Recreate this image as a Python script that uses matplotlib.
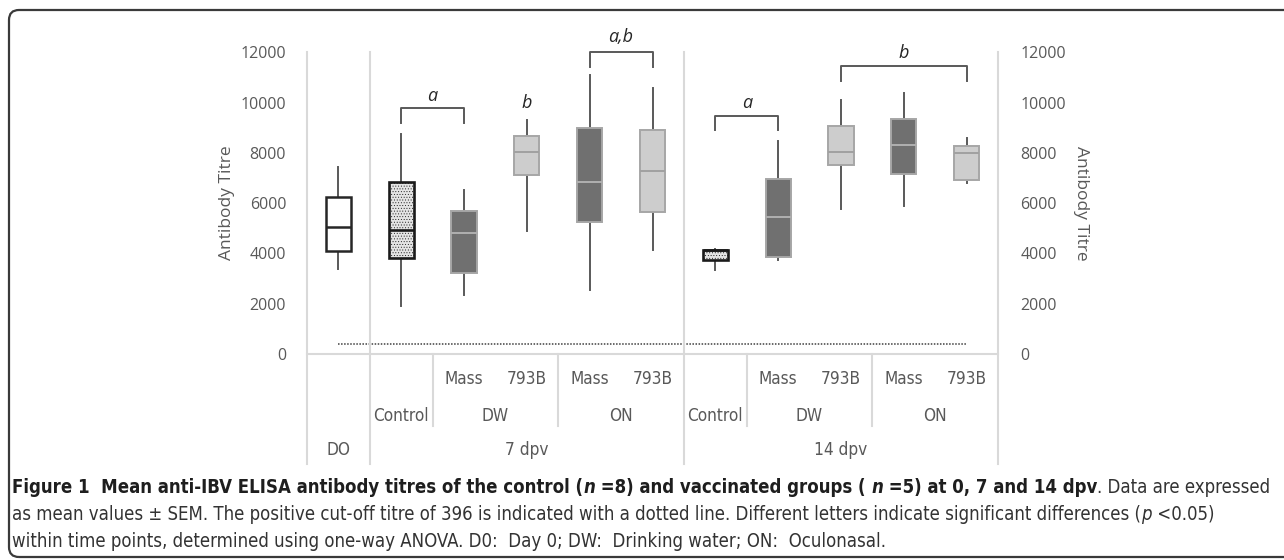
import matplotlib
matplotlib.use('Agg')
import matplotlib.pyplot as plt
from matplotlib.patches import FancyBboxPatch

# five-number summaries read per group (antibody titre)
groups = ['DO', 'Control', 'Mass', '793B', 'Mass', '793B',
          'Control', 'Mass', '793B', 'Mass', '793B']
kinds = ['d0', 'ctrl', 'mass', '793b', 'mass', '793b',
         'ctrl', 'mass', '793b', 'mass', '793b']
whislo = [3380, 1890, 2330, 4890, 2530, 4120, 3350, 3750, 5770, 5870, 6820]
q1 = [4090, 3815, 3220, 7125, 5270, 5630, 3720, 3840, 7535, 7150, 6915]
med = [5060, 4950, 4830, 8050, 6850, 7260, 4120, 5440, 8050, 8310, 8000]
q3 = [6250, 6860, 5695, 8690, 8970, 8910, 4120, 6970, 9085, 9350, 8280]
whishi = [7450, 8740, 6540, 9310, 11110, 10570, 4190, 8480, 10110, 10400, 8580]

cutoff = 396
yticks = [0, 2000, 4000, 6000, 8000, 10000, 12000]

# route labels (row 2) and time points (row 3)
routes = [('Control', 1), ('DW', 2.5), ('ON', 4.5), ('Control', 6), ('DW', 7.5), ('ON', 9.5)]
times = [('DO', 0), ('7 dpv', 3), ('14 dpv', 8)]

# significance brackets: x1, x2, leg bottom, bar top, letter, letter height
brackets = [(1, 2, 9180, 9780, 'a', 10270),
            (4, 5, 11430, 12030, 'a,b', 12600),
            (6, 7, 8890, 9480, 'a', 9990),
            (8, 10, 10860, 11460, 'b', 11960)]
single_letters = [(3, 9980, 'b')]

styles = {
    'd0': dict(face='white', edge='#262626', lw=1.8, medc='#262626', hatch=None),
    'ctrl': dict(face='#e4e4e4', edge='#1a1a1a', lw=1.9, medc='#1a1a1a', hatch='......'),
    'mass': dict(face='#707070', edge='#a6a6a6', lw=1.4, medc='#b0b0b0', hatch=None),
    '793b': dict(face='#cdcdcd', edge='#a6a6a6', lw=1.4, medc='#a0a0a0', hatch=None),
}

grey = '#595959'
light = '#d9d9d9'
tickfont = ['Open Sans', 'DejaVu Sans']

W, H = 1284, 560
fig = plt.figure(figsize=(W / 100, H / 100), dpi=100)
ax_top, ax_bot, ax_l, ax_r = 52.3, 354.0, 307.0, 998.0
ax = fig.add_axes([ax_l / W, 1 - ax_bot / H, (ax_r - ax_l) / W, (ax_bot - ax_top) / H])


def yfrac(p):
    # pixel row -> axes fraction
    return (ax_bot - p) / (ax_bot - ax_top)


stats = []
for i in range(len(groups)):
    stats.append(dict(whislo=whislo[i], q1=q1[i], med=med[i], q3=q3[i],
                      whishi=whishi[i], label=groups[i]))

plt.rcParams['hatch.color'] = '#d6d6d6'
plt.rcParams['hatch.linewidth'] = 0.35
bp = ax.bxp(stats, positions=range(len(groups)), widths=0.4, patch_artist=True,
            showcaps=False, showfliers=False,
            whiskerprops=dict(color=grey, lw=1.4))
for i, k in enumerate(kinds):
    s = styles[k]
    box = bp['boxes'][i]
    box.set_facecolor(s['face'])
    box.set_edgecolor(s['edge'])
    box.set_linewidth(s['lw'])
    if s['hatch']:
        box.set_hatch(s['hatch'])
    box.set_zorder(3)
    bp['medians'][i].set_color(s['medc'])
    bp['medians'][i].set_linewidth(s['lw'])
    bp['medians'][i].set_zorder(4)

# positive cut-off titre
ax.plot([0, len(groups) - 1], [cutoff, cutoff], color='#404040',
        lw=1.1, ls=(0, (1, 1)), zorder=2)

ax.set_xlim(-0.5, len(groups) - 0.5)
ax.set_ylim(0, 12000)
ax.set_yticks(yticks)
ax.set_yticklabels([str(t) for t in yticks], family=tickfont, fontsize=11.5, color=grey)
ax.tick_params(axis='y', length=0, pad=15)
ax.set_xticks([])
for sp in ax.spines.values():
    sp.set_visible(False)

ax2 = ax.twinx()
ax2.set_ylim(0, 12000)
ax2.set_yticks(yticks)
ax2.set_yticklabels([str(t) for t in yticks], family=tickfont, fontsize=11.5, color=grey)
ax2.tick_params(axis='y', length=0, pad=16)
for sp in ax2.spines.values():
    sp.set_visible(False)

xt = ax.get_xaxis_transform()
# frame lines of the category table
ax.plot([-0.5, len(groups) - 0.5], [0, 0], color=light, lw=1.5, transform=xt, clip_on=False)
full_bottom = yfrac(464)
part_bottom = yfrac(426)
for xs in [-0.5, 0.5, 5.5, 10.5]:
    ax.plot([xs, xs], [1, full_bottom], color=light, lw=1.5, transform=xt, clip_on=False)
for xs in [1.5, 3.5, 6.5, 8.5]:
    ax.plot([xs, xs], [0, part_bottom], color=light, lw=1.5, transform=xt, clip_on=False)

lab_kw = dict(transform=xt, ha='center', va='center', family='DejaVu Sans',
              fontstretch='condensed', fontsize=12.3, color=grey)
for i, g in enumerate(groups):
    if g in ('Mass', '793B'):
        ax.text(i, yfrac(379), g, **lab_kw)
for lab, x in routes:
    ax.text(x, yfrac(416), lab, **lab_kw)
for lab, x in times:
    ax.text(x, yfrac(450), lab, **lab_kw)

# significance brackets
for x1, x2, leg, top, lab, ly in brackets:
    ax.plot([x1, x1, x2, x2], [leg, top, top, leg], color=grey, lw=1.4, clip_on=False)
    ax.text((x1 + x2) / 2, ly, lab, ha='center', va='center', style='italic',
            family=tickfont, fontsize=13, color='#262626', clip_on=False)
for x, y, lab in single_letters:
    ax.text(x, y, lab, ha='center', va='center', style='italic',
            family=tickfont, fontsize=13, color='#262626')

fig.text(227 / W, 1 - 203 / H, 'Antibody Titre', rotation=90, ha='center', va='center',
         family=tickfont, fontsize=12.5, color=grey)
fig.text(1081 / W, 1 - 203 / H, 'Antibody Titre', rotation=-90, ha='center', va='center',
         family=tickfont, fontsize=12.5, color=grey)

# caption frame, open on the right
frame = FancyBboxPatch((0.09, 0.03), 14.5, 5.47, boxstyle='round,pad=0,rounding_size=0.1',
                       transform=fig.dpi_scale_trans, facecolor='none',
                       edgecolor='#3a3a3a', lw=1.6, clip_on=False)
fig.add_artist(frame)

# caption, drawn piece by piece so bold, italic and regular runs sit on one line
line1 = [('Figure 1  Mean anti-IBV ELISA antibody titres of the control (', 'bold', 'normal'),
         ('n', 'bold', 'italic'),
         (' =8) and vaccinated groups ( ', 'bold', 'normal'),
         ('n', 'bold', 'italic'),
         (' =5) at 0, 7 and 14 dpv', 'bold', 'normal'),
         ('. Data are expressed', 'normal', 'normal')]
line2 = [('as mean values \u00b1 SEM. The positive cut-off titre of 396 is indicated with a dotted line. '
          'Different letters indicate significant differences (', 'normal', 'normal'),
         ('p', 'normal', 'italic'),
         (' <0.05)', 'normal', 'normal')]
line3 = [('within time points, determined using one-way ANOVA. D0:  Day 0; DW:  Drinking water; '
          'ON:  Oculonasal.', 'normal', 'normal')]

renderer = fig.canvas.get_renderer()


def draw_line(segs, x0, y0, size, keep=True):
    x = x0
    made = []
    for txt, wt, st in segs:
        color = '#1e1e1e' if wt == 'bold' else '#333333'
        t = fig.text(x / W, 1 - y0 / H, txt, ha='left', va='baseline', family='DejaVu Sans',
                     fontstretch='condensed', fontsize=size, weight=wt, style=st, color=color)
        x += t.get_window_extent(renderer).width
        made.append(t)
    if not keep:
        for t in made:
            t.remove()
    return x - x0


# size the caption so the first line runs the full width of the frame
probe = draw_line(line1, 12, 493, 10, keep=False)
cap_size = min(13.4, 10 * 1262 / probe)
draw_line(line1, 12, 493, cap_size)
draw_line(line2, 12, 520, cap_size)
draw_line(line3, 12, 547, cap_size)

fig.savefig('out.png', dpi=100)
